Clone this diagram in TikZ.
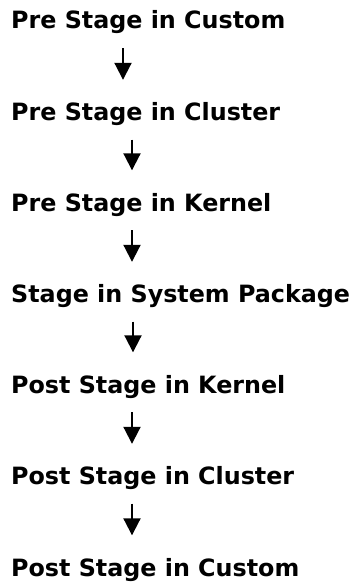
\documentclass[tikz,border=0pt]{standalone}
\usepackage{fontspec}
\setmainfont{DejaVu Sans}
\usetikzlibrary{arrows.meta}

\begin{document}
\begin{tikzpicture}[x=1pt, y=-1pt,
  stage/.style={anchor=base west, inner sep=0pt, text height=18pt, text depth=6pt,
    font=\fontsize{23.8}{28}\selectfont\bfseries},
  flow/.style={-{Triangle[width=17pt,length=17pt]}, line width=2pt,
    shorten <=13pt, shorten >=22.5pt}]
  \useasboundingbox (0,0) rectangle (357,583);
  % stages, top to bottom
  \foreach \n/\y/\t in {1/29/Pre Stage in Custom, 2/120.5/Pre Stage in Cluster,
      3/211/Pre Stage in Kernel, 4/302.5/Stage in System Package,
      5/393/Post Stage in Kernel, 6/484.5/Post Stage in Cluster,
      7/576/Post Stage in Custom}
    \node[stage] (s\n) at (11,\y) {\t};
  % arrows between stages
  \foreach \i/\j/\x in {1/2/112, 2/3/121, 3/4/121, 4/5/122, 5/6/121, 6/7/121}
    \draw[flow] ([xshift=\x pt]s\i.south west) -- ([xshift=\x pt]s\j.north west);
\end{tikzpicture}
\end{document}
